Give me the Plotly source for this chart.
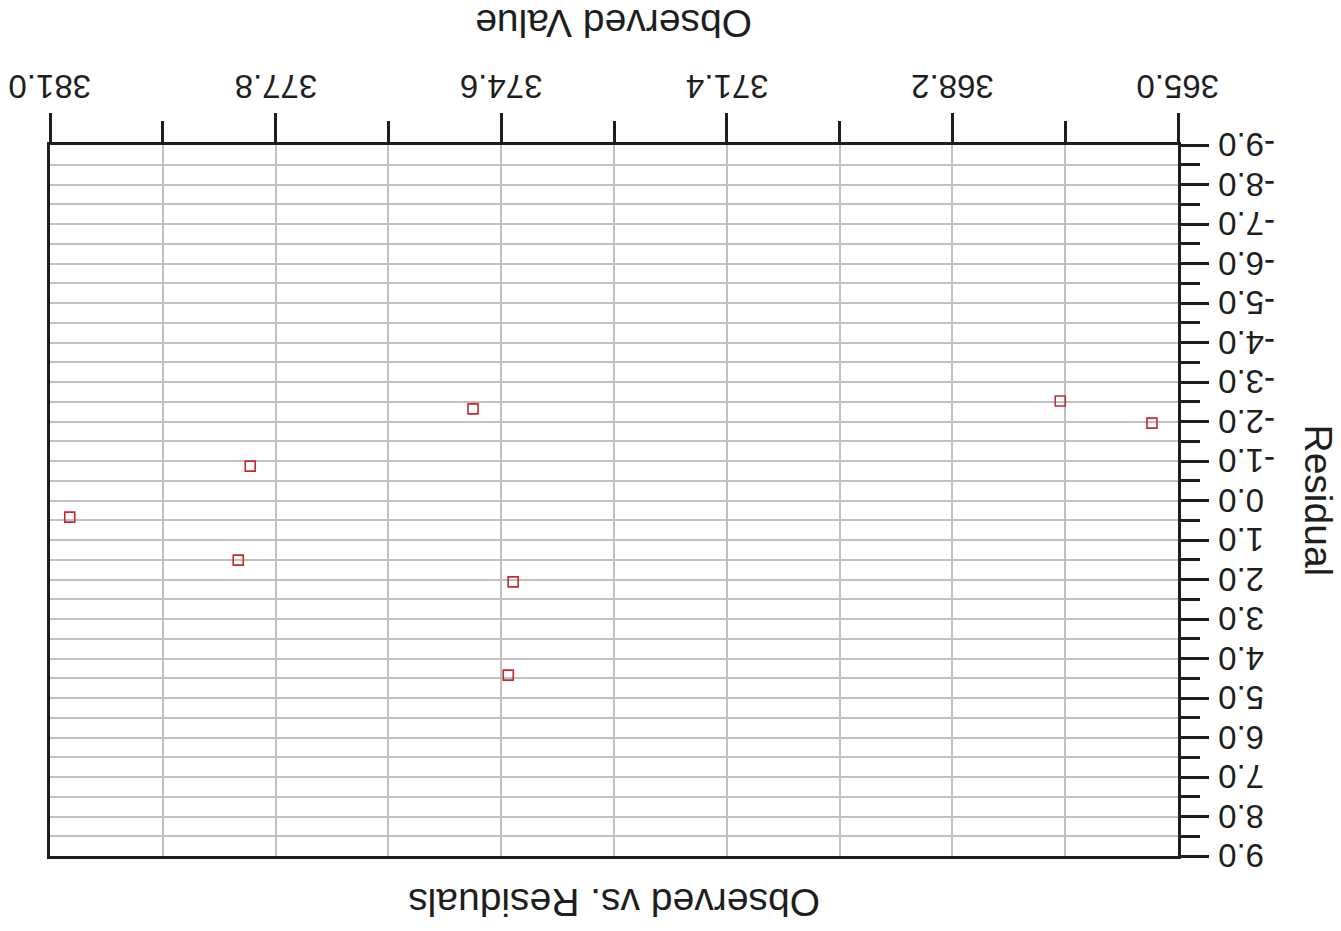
import plotly.graph_objects as go

# Observed values and their residuals
observed = [365.37, 366.67, 375.00, 378.16, 380.72, 378.33, 374.43, 374.50]
residual = [-1.96, -2.52, -2.32, -0.87, 0.42, 1.51, 2.06, 4.42]

# Axis ticks
x_major = [365.0, 368.2, 371.4, 374.6, 377.8, 381.0]
x_major_text = ["365.0", "368.2", "371.4", "374.6", "377.8", "381.0"]
x_minor = [366.6, 369.8, 373.0, 376.2, 379.4]
y_major = [-9, -8, -7, -6, -5, -4, -3, -2, -1, 0, 1, 2, 3, 4, 5, 6, 7, 8, 9]
y_major_text = ["-9.0", "-8.0", "-7.0", "-6.0", "-5.0", "-4.0", "-3.0", "-2.0", "-1.0",
                "0.0", "1.0", "2.0", "3.0", "4.0", "5.0", "6.0", "7.0", "8.0", "9.0"]
y_minor = [-8.5, -7.5, -6.5, -5.5, -4.5, -3.5, -2.5, -1.5, -0.5,
           0.5, 1.5, 2.5, 3.5, 4.5, 5.5, 6.5, 7.5, 8.5]

FONT = "Liberation Sans, Arial, sans-serif"
INK = "#1e1e1e"
GRID = "#c0c0c0"

fig = go.Figure()
fig.add_trace(go.Scatter(
    x=observed, y=residual, mode="markers",
    marker=dict(symbol="square-open", size=10, color="#c42830",
                line=dict(width=1.6, color="#c42830")),
    showlegend=False,
))

W, H = 1341, 931
L, R, T, B = 50, 163, 145, 75
pw, ph = W - L - R, H - T - B

fig.update_layout(
    width=W, height=H,
    margin=dict(l=L, r=R, t=T, b=B),
    paper_bgcolor="white", plot_bgcolor="white",
    font=dict(family=FONT, color=INK),
    xaxis=dict(
        range=[381.0, 365.0], side="top",
        tickmode="array", tickvals=x_major, showticklabels=False,
        ticks="outside", ticklen=29, tickwidth=3, tickcolor=INK,
        showgrid=True, gridcolor=GRID, gridwidth=2,
        minor=dict(tickmode="array", tickvals=x_minor, ticks="outside",
                   ticklen=21, tickwidth=3, tickcolor=INK,
                   showgrid=True, gridcolor=GRID, gridwidth=2),
        showline=True, linewidth=3, linecolor=INK, mirror=True,
        zeroline=False,
    ),
    yaxis=dict(
        range=[9, -9], side="right",
        tickmode="array", tickvals=y_major, showticklabels=False,
        ticks="outside", ticklen=28, tickwidth=3, tickcolor=INK,
        showgrid=True, gridcolor=GRID, gridwidth=2,
        minor=dict(tickmode="array", tickvals=y_minor, ticks="outside",
                   ticklen=19, tickwidth=3, tickcolor=INK,
                   showgrid=True, gridcolor=GRID, gridwidth=2),
        showline=True, linewidth=3, linecolor=INK, mirror=True,
        zeroline=False,
    ),
)


def px_to_paper_y(py):
    return (H - B - py) / ph


def px_to_paper_x(px):
    return (px - L) / pw


# Tick labels, turned upside down with the rest of the chart
label_font = dict(family=FONT, size=33, color=INK)
for v, t in zip(x_major, x_major_text):
    fig.add_annotation(text=t, textangle=180, showarrow=False,
                       xref="x", yref="paper", x=v, y=px_to_paper_y(87),
                       xanchor="center", yanchor="middle", font=label_font)
for v, t in zip(y_major, y_major_text):
    fig.add_annotation(text=t, textangle=180, showarrow=False,
                       xref="paper", yref="y", x=px_to_paper_x(1216), y=v,
                       xanchor="left", yanchor="middle", font=label_font)

title_font = dict(family=FONT, size=39, color=INK)
fig.add_annotation(text="Observed Value", textangle=180, showarrow=False,
                   xref="paper", yref="paper", x=0.5, y=px_to_paper_y(24),
                   xanchor="center", yanchor="middle", font=title_font)
fig.add_annotation(text="Observed vs. Residuals", textangle=180, showarrow=False,
                   xref="paper", yref="paper", x=0.5, y=px_to_paper_y(903),
                   xanchor="center", yanchor="middle", font=title_font)
fig.add_annotation(text="Residual", textangle=90, showarrow=False,
                   xref="paper", yref="paper", x=px_to_paper_x(1318), y=0.5,
                   xanchor="center", yanchor="middle", font=title_font)

fig.write_html("out.html")
